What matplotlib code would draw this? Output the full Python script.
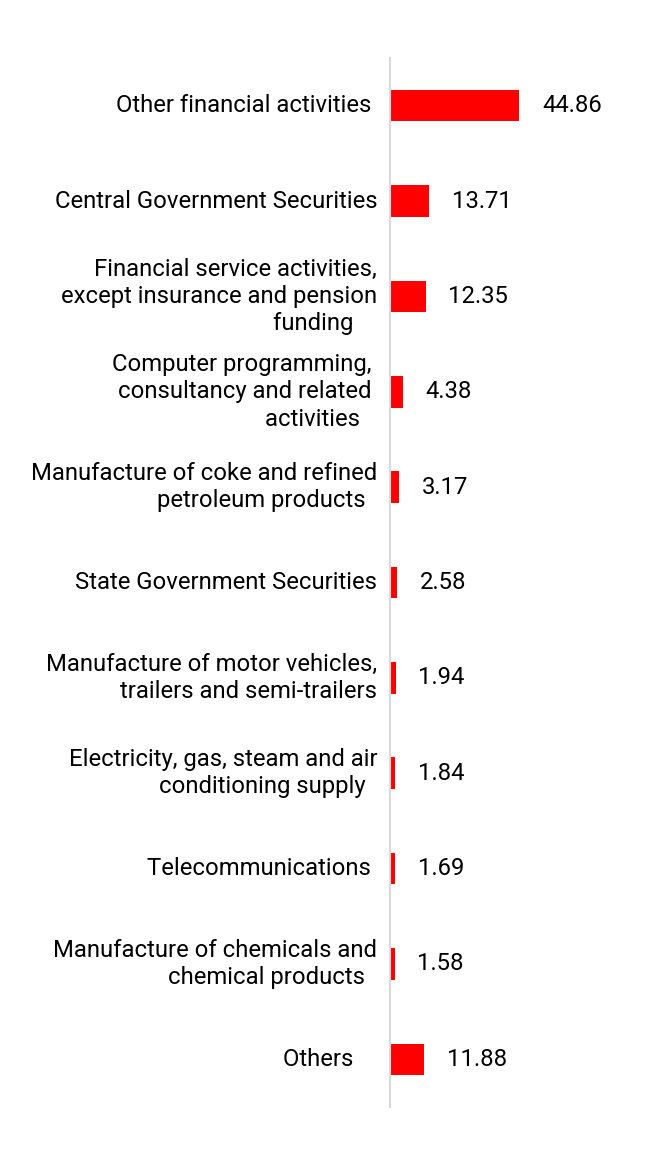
import matplotlib.pyplot as plt

# ==== Data ====
kategori = [
    "Other financial activities ",
    "Central Government Securities",
    "Financial service activities,\nexcept insurance and pension\nfunding    ",
    "Computer programming, \nconsultancy and related \nactivities   ",
    "Manufacture of coke and refined\npetroleum products  ",
    "State Government Securities",
    "Manufacture of motor vehicles,\ntrailers and semi-trailers",
    "Electricity, gas, steam and air\nconditioning supply  ",
    "Telecommunications ",
    "Manufacture of chemicals and\nchemical products  ",
    "Others    ",
]
nilai = [44.86, 13.71, 12.35, 4.38, 3.17, 2.58, 1.94, 1.84, 1.69, 1.58, 11.88]

plt.rcParams['font.family'] = ['Roboto', 'DejaVu Sans']

# ==== Visualisasi ====
fig = plt.figure(figsize=(6.47, 11.72), dpi=100)
ax = fig.add_axes([390 / 647, 65 / 1172, 230 / 647, 1049 / 1172])

posisi = list(range(len(kategori)))
ax.barh(posisi, nilai, height=0.33, color='#ff0000')
ax.set_xlim(0, 80)
ax.set_ylim(len(kategori) - 0.5, -0.5)

for p, v in zip(posisi, nilai):
    ax.annotate(f"{v:.2f}", xy=(v, p), xytext=(16.5, 0), textcoords='offset points',
                va='center', ha='left', fontsize=17.2, color='black')

ax.set_yticks(posisi)
ax.set_yticklabels(kategori, fontsize=17.2, linespacing=1.24, ha='right', va='center')
ax.tick_params(axis='y', length=0, pad=9.2)
ax.set_xticks([])
for s in ['top', 'right', 'bottom']:
    ax.spines[s].set_visible(False)
ax.spines['left'].set_color('#d9d9d9')
ax.spines['left'].set_linewidth(1.5)

fig.savefig("out.png", dpi=100)
